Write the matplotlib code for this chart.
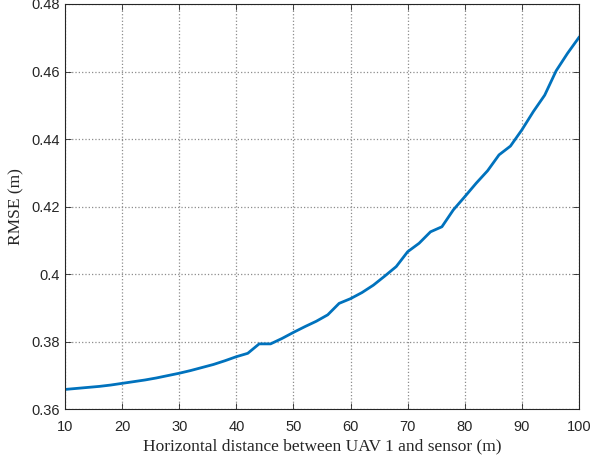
import matplotlib
matplotlib.use("Agg")
from matplotlib import pyplot as plt
import numpy as np

# distance (m) and RMSE (m)
dist = [10, 12, 14, 16, 18, 20, 22, 24, 26, 28, 30, 32, 34, 36, 38, 40,
        42, 44, 46, 48, 50, 52, 54, 56, 58, 60, 62, 64, 66, 68, 70,
        72, 74, 76, 78, 80, 82, 84, 86, 88, 90, 92, 94, 96, 98, 100]
rmse = [0.3658, 0.3661, 0.3664, 0.3667, 0.3671, 0.3676, 0.3681, 0.3686,
        0.3692, 0.3699, 0.3706, 0.3714, 0.3723, 0.3732, 0.3743, 0.3755,
        0.3765, 0.3793, 0.3793, 0.3809, 0.3827, 0.3844, 0.3860, 0.3879,
        0.3913, 0.3927, 0.3945, 0.3967, 0.3994, 0.4022, 0.4066,
        0.4091, 0.4125, 0.4140, 0.4190, 0.4229, 0.4269, 0.4306, 0.4353,
        0.4379, 0.4427, 0.4481, 0.4530, 0.4602, 0.4654, 0.4701]

xticks = [10, 20, 30, 40, 50, 60, 70, 80, 90, 100]
yticks = [0.36, 0.38, 0.40, 0.42, 0.44, 0.46, 0.48]
ytick_labels = ["0.36", "0.38", "0.4", "0.42", "0.44", "0.46", "0.48"]

fig = plt.figure(figsize=(5.92, 4.65), dpi=100)
ax = fig.add_axes([0.1098, 0.1204, 0.8682, 0.871])
ax.plot(dist, rmse, "-", color="#0072BD", linewidth=2)

ax.set_xlim(10, 100)
ax.set_ylim(0.36, 0.48)
ax.set_xticks(xticks)
ax.set_yticks(yticks)
ax.set_yticklabels(ytick_labels)
ax.grid(True, linestyle=":", color="#8c8c8c", linewidth=0.9)

for s in ax.spines.values():
    s.set_color("#262626")
    s.set_linewidth(0.8)
ax.tick_params(direction="in", top=True, right=True, length=4, width=0.6,
               colors="#262626", labelsize=10.5, labelcolor="#262626")
ax.tick_params(axis="x", pad=8)
ax.tick_params(axis="y", pad=4)
for lbl in ax.get_xticklabels() + ax.get_yticklabels():
    lbl.set_family("Liberation Sans")

ax.set_xlabel("Horizontal distance between UAV 1 and sensor (m)",
              family="Liberation Serif", fontsize=12.5, color="#262626", labelpad=3)
ax.set_ylabel("RMSE (m)", family="Liberation Serif", fontsize=12.5,
              color="#262626", labelpad=5)

fig.savefig("out.png", dpi=100)
